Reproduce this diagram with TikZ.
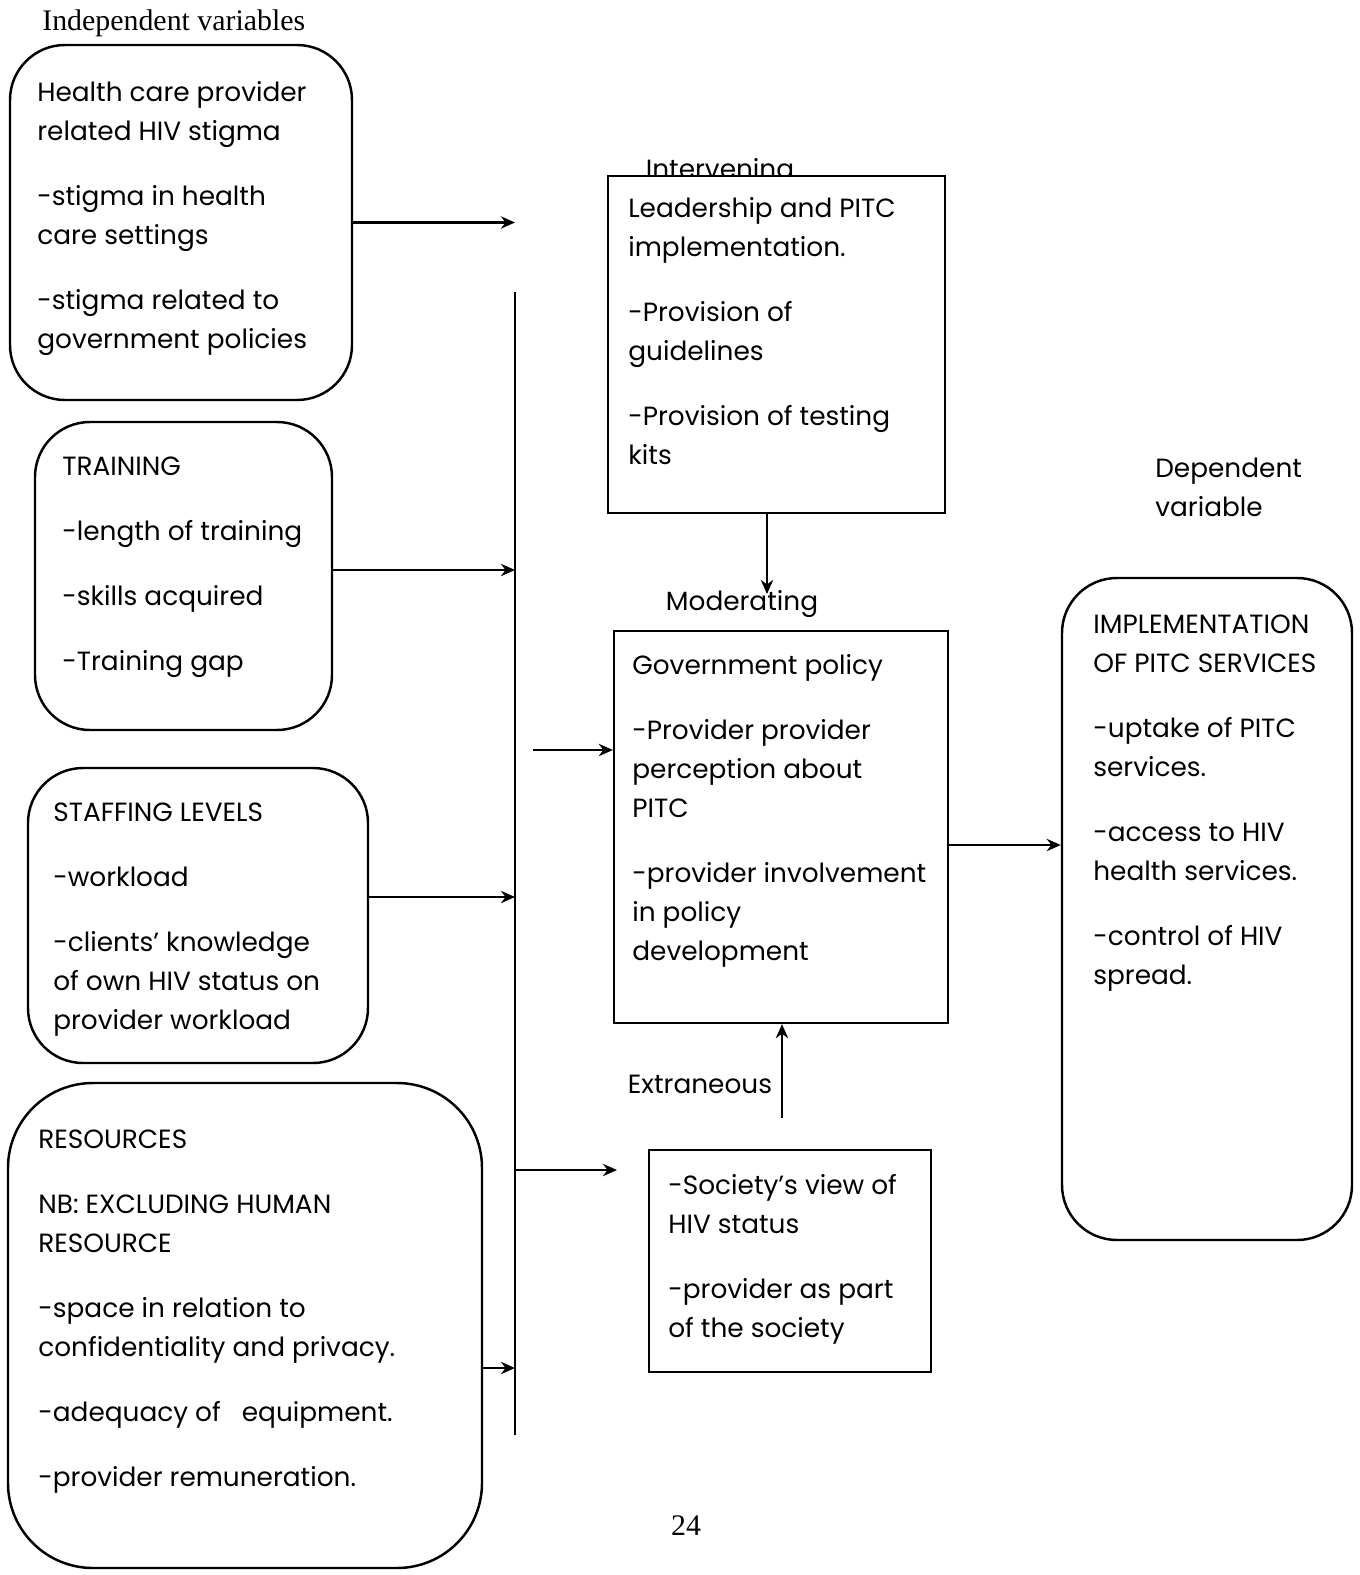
\documentclass[tikz,border=0pt]{standalone}
\usepackage{fontspec}
\setmainfont{Poppins}
\newfontfamily\titlefont{Liberation Serif}
\usetikzlibrary{arrows.meta,positioning,fit}

\tikzset{
  varbox/.style={draw, line width=1.4pt, rounded corners=1.1cm, inner sep=0pt},
  plainbox/.style={draw, line width=1.3pt, inner sep=0pt},
  boxtext/.style={anchor=north west, align=left, inner sep=0pt, font=\fontsize{15}{22.2}\selectfont},
  tag/.style={inner sep=0pt, font=\fontsize{15}{22.2}\selectfont},
  link/.style={line width=1.4pt, -{Stealth[length=8pt,width=7pt]}},
  bus/.style={line width=1.4pt}
}

\begin{document}
\begin{tikzpicture}[x=0.02cm, y=-0.02cm]
            \useasboundingbox (0,0) rectangle (1359,1575);

            % Independent variables
            \node[anchor=west, inner sep=0pt, font=\titlefont\fontsize{17}{20}\selectfont] (indeplabel) at (42,23) {Independent variables};

            \node[varbox, fit={(10,45) (352,400)}] (stigma) {};
            \node[boxtext] (stigmatext) at (37,81) {Health care provider\\related HIV stigma\\[0.52cm]-stigma in health\\care settings\\[0.52cm]-stigma related to\\government policies};

            \node[varbox, fit={(35,422) (332,730)}] (training) {};
            \node[boxtext] (trainingtext) at (62,457) {TRAINING\\[0.52cm]-length of training\\[0.52cm]-skills acquired\\[0.52cm]-Training gap};

            \node[varbox, fit={(28,768) (368,1063)}] (staffing) {};
            \node[boxtext] (staffingtext) at (53,803) {STAFFING LEVELS\\[0.52cm]-workload\\[0.52cm]-clients' knowledge\\of own HIV status on\\provider workload};

            \node[varbox, rounded corners=1.7cm, fit={(8,1083) (482,1568)}] (resources) {};
            \node[boxtext] (resourcestext) at (38,1130) {RESOURCES\\[0.52cm]NB: EXCLUDING HUMAN\\RESOURCE\\[0.52cm]-space in relation to\\confidentiality and privacy.\\[0.52cm]-adequacy of\ \ \ equipment.\\[0.52cm]-provider remuneration.};

            % Common line
            \coordinate (bustop) at (515,292);
            \coordinate (busbot) at (515,1435);
            \draw[bus] (bustop) -- (busbot);

            \draw[link] (stigma.east) -- (stigma.east -| bustop);
            \draw[link] (training.east |- 0,570) -- (bustop |- 0,570);
            \draw[link] (staffing.east |- 0,897) -- (bustop |- 0,897);
            \draw[link] (resources.east |- 0,1368) -- (bustop |- 0,1368);

            % Intervening
            \node[tag] (intervlabel) at (720,172) {Intervening};
            \node[plainbox, fill=white, fit={(608,176) (945,513)}] (leadership) {};
            \node[boxtext] (leadershiptext) at (628,197) {Leadership and PITC\\implementation.\\[0.52cm]-Provision of\\guidelines\\[0.52cm]-Provision of testing\\kits};

            % Moderating
            \node[tag] (modlabel) at (742,604) {Moderating};
            \node[plainbox, fit={(614,631) (948,1023)}] (policy) {};
            \node[boxtext] (policytext) at (632,654) {Government policy\\[0.52cm]-Provider provider\\perception about\\PITC\\[0.52cm]-provider involvement\\in policy\\development};
            \draw[link] (leadership.south -| 767,0) -- (767,594);

            \coordinate (busout) at (533,750);
            \draw[link] (busout) -- (policy.west |- busout);

            % Extraneous
            \node[tag] (extlabel) at (700,1084) {Extraneous};
            \node[plainbox, fit={(649,1150) (931,1372)}] (society) {};
            \node[boxtext] (societytext) at (668,1174) {-Society's view of\\HIV status\\[0.52cm]-provider as part\\of the society};
            \coordinate (extstart) at (782,1118);
            \draw[link] (extstart) -- (policy.south -| extstart);

            \coordinate (societyin) at (617,1170);
            \draw[link] (bustop |- societyin) -- (societyin);

            % Dependent variable
            \node[boxtext] (deplabel) at (1155,458) {Dependent\\variable};
            \node[varbox, fit={(1062,578) (1352,1240)}] (pitc) {};
            \node[boxtext] (pitctext) at (1093,615) {IMPLEMENTATION\\OF PITC SERVICES\\[0.52cm]-uptake of PITC\\services.\\[0.52cm]-access to HIV\\health services.\\[0.52cm]-control of HIV\\spread.};
            \draw[link] (policy.east |- 0,845) -- (pitc.west |- 0,845);

            % Page number
            \node[inner sep=0pt, font=\titlefont\fontsize{17}{20}\selectfont] (pagenum) at (686,1526) {24};
        \end{tikzpicture}
\end{document}
